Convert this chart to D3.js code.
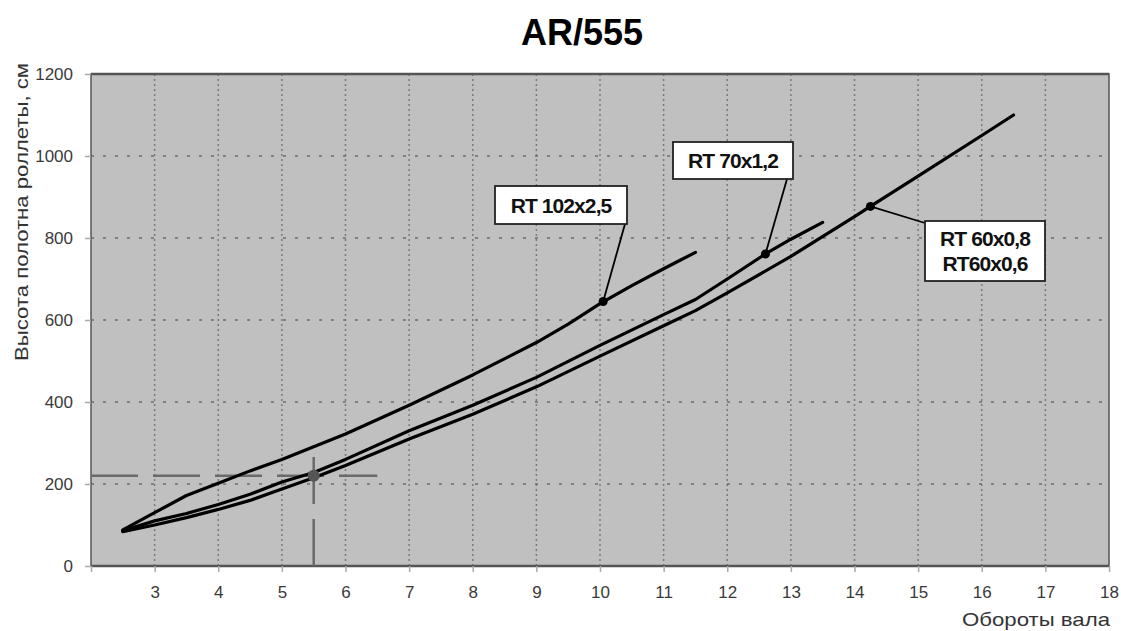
<!DOCTYPE html>
<html>
<head>
<meta charset="utf-8">
<script src="https://cdn.jsdelivr.net/npm/d3@7"></script>
<style>
  body { margin: 0; background: #fff; }
  svg { display: block; }
  .tick text { font-family: "Liberation Sans", Arial, sans-serif; font-size: 17px; fill: #3a3a3a; }
</style>
</head>
<body>
<svg id="chart" width="1121" height="631"></svg>
<script>
// values
var xTicks = [2, 3, 4, 5, 6, 7, 8, 9, 10, 11, 12, 13, 14, 15, 16, 17, 18]
  , yTicks = [0, 200, 400, 600, 800, 1000, 1200]

var rt102X = [2.5, 3, 3.5, 4, 4.5, 5, 6, 7, 8, 9, 9.5, 10, 10.5, 11, 11.5]
  , rt102Y = [88, 130, 172, 202, 232, 260, 322, 392, 466, 545, 590, 640, 684, 725, 765]

var rt70X = [2.5, 3, 3.5, 4, 4.5, 5, 5.5, 6, 7, 8, 9, 10, 11, 11.5, 12, 12.6, 13, 13.5]
  , rt70Y = [86, 110, 128, 150, 175, 205, 228, 260, 330, 392, 460, 538, 613, 650, 700, 761, 797, 838]

var rt60X = [2.5, 3, 3.5, 4, 4.5, 5, 5.5, 6, 7, 8, 9, 10, 11, 11.5, 12, 13, 14, 14.25, 15, 16, 16.5]
  , rt60Y = [84, 100, 118, 138, 160, 188, 215, 245, 310, 370, 437, 512, 586, 623, 666, 755, 852, 877, 951, 1050, 1100]

var markerX = [10.05, 12.6, 14.25]
  , markerY = [645, 761, 877]
  , labelLines = [['RT 102x2,5'], ['RT 70x1,2'], ['RT 60x0,8', 'RT60x0,6']]

var pickX = 5.5, pickY = 220, pickXEnd = 6.5, pickYEnd = 268

var title = 'AR/555'
  , yTitle = 'Высота полотна роллеты, см'
  , xTitle = 'Обороты вала'

// layout (window.top is read-only, so no bare "top" here)
var plotL = 91, plotR = 1109, plotT = 74, plotB = 566
// label boxes: x, y, width, height and the point the leader leaves from
var boxes = [
  { x: 495, y: 186, w: 132, h: 38, lx: 625, ly: 224 },
  { x: 673, y: 142, w: 120, h: 37, lx: 787, ly: 179 },
  { x: 925, y: 221, w: 120, h: 60, lx: 925, ly: 223 }
]

var svg = d3.select('svg#chart')

var x = d3.scaleLinear().domain([2, 18]).range([plotL, plotR])
  , y = d3.scaleLinear().domain([0, 1200]).range([plotB, plotT])

svg.append('rect')
  .attr('x', plotL).attr('y', plotT)
  .attr('width', plotR - plotL).attr('height', plotB - plotT)
  .attr('fill', '#c0c0c0')

// grid
svg.append('g').selectAll('line.vgrid').data(xTicks.slice(1, -1))
  .enter().append('line').attr('class', 'vgrid')
  .attr('x1', function(d) { return x(d) }).attr('x2', function(d) { return x(d) })
  .attr('y1', plotT).attr('y2', plotB)
  .attr('stroke', '#7a7a7a').attr('stroke-width', 1.5).attr('stroke-dasharray', '2,3')

svg.append('g').selectAll('line.hgrid').data(yTicks.slice(1, -1))
  .enter().append('line').attr('class', 'hgrid')
  .attr('x1', plotL).attr('x2', plotR)
  .attr('y1', function(d) { return y(d) }).attr('y2', function(d) { return y(d) })
  .attr('stroke', '#6e6e6e').attr('stroke-width', 1.5).attr('stroke-dasharray', '3,9')

// frame
svg.append('rect')
  .attr('x', plotL).attr('y', plotT)
  .attr('width', plotR - plotL).attr('height', plotB - plotT)
  .attr('fill', 'none').attr('stroke', '#555').attr('stroke-width', 1.5)
svg.append('line')
  .attr('x1', plotL).attr('x2', plotR).attr('y1', plotT).attr('y2', plotT)
  .attr('stroke', '#555').attr('stroke-width', 2.5)
svg.append('line')
  .attr('x1', plotL).attr('x2', plotR).attr('y1', plotB).attr('y2', plotB)
  .attr('stroke', '#555').attr('stroke-width', 2.5)

// axes
var xAxis = svg.append('g').attr('transform', 'translate(0,' + plotB + ')')
  .call(d3.axisBottom(x).tickValues(xTicks).tickSize(6).tickPadding(14)
    .tickFormat(function(d) { return d === 2 ? '' : d }))
var yAxis = svg.append('g').attr('transform', 'translate(' + plotL + ',0)')
  .call(d3.axisLeft(y).tickValues(yTicks).tickSize(6).tickPadding(12)
    .tickFormat(d3.format('d')))
;[xAxis, yAxis].forEach(function(g) {
  g.select('.domain').remove()
  g.selectAll('.tick line').attr('stroke', '#aaa').attr('stroke-width', 1.5)
})

// pick-off lines
var pickStyle = function(sel) {
  return sel.attr('stroke', '#6a6a6a').attr('stroke-width', 2.5).attr('stroke-dasharray', '47,15')
}
svg.append('line')
  .attr('x1', x(2)).attr('x2', x(pickXEnd)).attr('y1', y(pickY)).attr('y2', y(pickY))
  .call(pickStyle)
svg.append('line')
  .attr('x1', x(pickX)).attr('x2', x(pickX)).attr('y1', y(0)).attr('y2', y(pickYEnd))
  .call(pickStyle)

// curves
var line = d3.line()
  .x(function(d) { return x(d[0]) })
  .y(function(d) { return y(d[1]) })

;[[rt102X, rt102Y], [rt70X, rt70Y], [rt60X, rt60Y]].forEach(function(s) {
  svg.append('path')
    .datum(d3.zip(s[0], s[1]))
    .attr('d', line)
    .attr('fill', 'none').attr('stroke', '#000').attr('stroke-width', 3.2)
    .attr('stroke-linejoin', 'round').attr('stroke-linecap', 'round')
})

svg.append('circle')
  .attr('cx', x(pickX)).attr('cy', y(pickY)).attr('r', 6)
  .attr('fill', '#555')

// annotations
boxes.forEach(function(b, i) {
  svg.append('line')
    .attr('x1', b.lx).attr('y1', b.ly)
    .attr('x2', x(markerX[i])).attr('y2', y(markerY[i]))
    .attr('stroke', '#000').attr('stroke-width', 1.8)
  svg.append('circle')
    .attr('cx', x(markerX[i])).attr('cy', y(markerY[i])).attr('r', 4.5)
    .attr('fill', '#000')
  svg.append('rect')
    .attr('x', b.x).attr('y', b.y).attr('width', b.w).attr('height', b.h)
    .attr('fill', '#fff').attr('stroke', '#222').attr('stroke-width', 1.8)
  var n = labelLines[i].length
  labelLines[i].forEach(function(t, j) {
    svg.append('text')
      .attr('x', b.x + b.w / 2)
      .attr('y', b.y + b.h / 2 + (j - (n - 1) / 2) * 25 + 7.5)
      .attr('text-anchor', 'middle')
      .attr('font-family', '"Liberation Sans", Arial, sans-serif')
      .attr('font-weight', 'bold').attr('font-size', 21)
      .attr('letter-spacing', -0.9)
      .attr('fill', '#111')
      .text(t)
  })
})

// titles
svg.append('text')
  .attr('x', 582).attr('y', 45)
  .attr('text-anchor', 'middle')
  .attr('font-family', '"Liberation Sans", Arial, sans-serif')
  .attr('font-weight', 'bold').attr('font-size', 36)
  .text(title)

svg.append('text')
  .attr('transform', 'translate(21,212) rotate(-90)')
  .attr('text-anchor', 'middle').attr('dy', '0.35em')
  .attr('font-family', '"Liberation Sans", Arial, sans-serif')
  .attr('font-size', 19).attr('fill', '#333')
  .attr('textLength', 298).attr('lengthAdjust', 'spacingAndGlyphs')
  .text(yTitle)

svg.append('text')
  .attr('x', 1110).attr('y', 626)
  .attr('text-anchor', 'end')
  .attr('font-family', '"Liberation Sans", Arial, sans-serif')
  .attr('font-size', 19).attr('fill', '#333')
  .attr('textLength', 148).attr('lengthAdjust', 'spacingAndGlyphs')
  .text(xTitle)
</script>
</body>
</html>
